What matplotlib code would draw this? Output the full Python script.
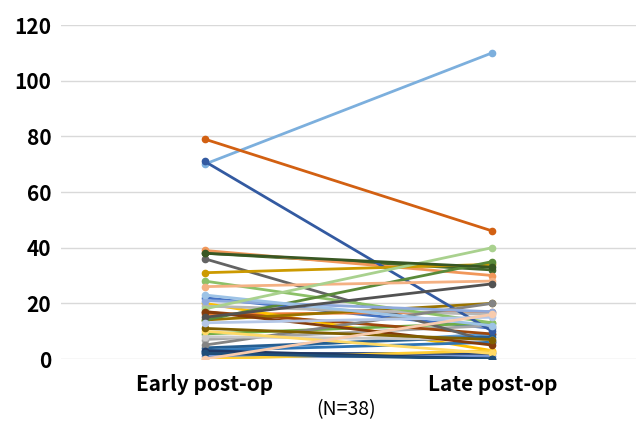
import matplotlib.pyplot as plt

plt.rcParams['font.family'] = ['Noto Sans CJK JP', 'DejaVu Sans']

# Categorías y valores por paciente (temprano, tardío)
categories = ['Early post-op', 'Late post-op']
early = [22, 16, 7, 20, 3, 9, 2, 17, 36, 14, 4, 38, 1, 39, 19, 0, 70, 28, 71,
         79, 5, 31, 3, 14, 21, 26, 8, 10, 23, 18, 3, 17, 15, 11, 2, 38, 13, 0]
late = [11, 17, 12, 3, 9, 13, 2, 9, 6, 20, 8, 32, 1, 30, 16, 3, 110, 13, 10,
        46, 20, 34, 6, 35, 17, 28, 7, 2, 12, 40, 0, 5, 27, 7, 0, 33, 15, 16]

# Paleta estilo Excel
colors = ['#4472C4', '#ED7D31', '#A5A5A5', '#FFC000', '#5B9BD5', '#70AD47',
          '#264478', '#9E480E', '#636363', '#997300', '#255E91', '#43682B',
          '#698ED0', '#F1975A', '#B7B7B7', '#FFCD33', '#7CAFDD', '#8CC168',
          '#335AA1', '#D26012', '#848484', '#CC9A00', '#2E75B6', '#5A8A39',
          '#8FAADC', '#F4B183', '#C9C9C9', '#FFD966', '#9DC3E6', '#A9D18E',
          '#203864', '#843C0C', '#525252', '#7F6000', '#1F4E79', '#385723',
          '#B4C7E7', '#F8CBAD']

fig = plt.figure(figsize=(6.37, 4.23), dpi=100)
ax = fig.add_axes([61 / 637, 64 / 423, 575 / 637, 334 / 423])

for e, l, c in zip(early, late, colors):
    ax.plot([0, 1], [e, l], color=c, linewidth=2, marker='o', markersize=4.5,
            solid_capstyle='round')

ax.set_xlim(-0.5, 1.5)
ax.set_ylim(0, 120)
ax.set_yticks(range(0, 121, 20))
ax.set_xticks([0, 1])
ax.set_xticklabels(categories, fontsize=15, fontweight='bold')
ax.tick_params(axis='y', labelsize=15, length=0, pad=7)
ax.tick_params(axis='x', length=0, pad=11)
for lab in ax.get_yticklabels():
    lab.set_fontweight('bold')

ax.grid(axis='y', color='#D9D9D9', linewidth=1)
ax.set_axisbelow(True)
for s in ax.spines.values():
    s.set_visible(False)

fig.text(346 / 637, 1 - 410 / 423, '(N=38)', ha='center', va='center', fontsize=14)

plt.savefig('out.png', dpi=100)
